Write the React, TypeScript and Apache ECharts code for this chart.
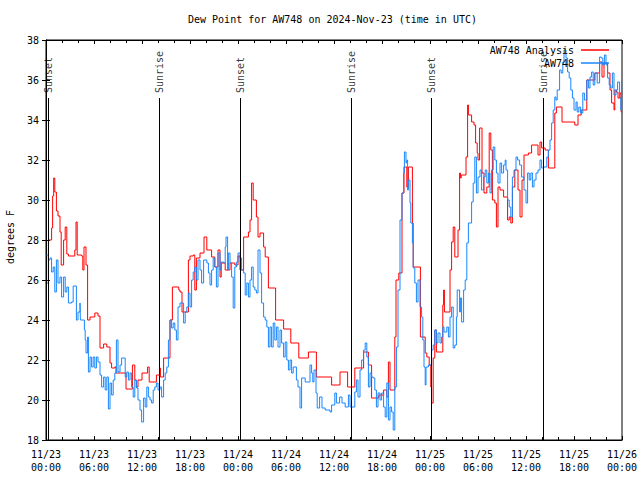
import React, { useEffect, useRef } from "react";
import * as echarts from "echarts";

const FONT = "'DejaVu Sans Mono', 'Liberation Mono', monospace";

const titleText = "Dew Point for AW748 on 2024-Nov-23 (time in UTC)";
const yAxisName = "degrees F";
const seriesNames = ["AW748 Analysis", "AW748"];
const seriesColors = ["#ff0000", "#1787ff"];

// hours since 2024-11-23 00:00 UTC
const xTickLabels = [
  "11/23\n00:00", "11/23\n06:00", "11/23\n12:00", "11/23\n18:00",
  "11/24\n00:00", "11/24\n06:00", "11/24\n12:00", "11/24\n18:00",
  "11/25\n00:00", "11/25\n06:00", "11/25\n12:00", "11/25\n18:00",
  "11/26\n00:00",
];

const sunEventHours = [0.33, 14.17, 24.3, 38.17, 48.17, 62.17];
const sunEventLabels = ["Sunset", "Sunrise", "Sunset", "Sunrise", "Sunset", "Sunrise"];

const analysis: [number, number][] = [
  [0.15, 25.85], [0.3, 28], [0.7, 28.6], [0.83, 30.2], [0.96, 31.1], [1.1, 30.4],
  [1.3, 29.45], [1.5, 29.2], [1.75, 28.4], [1.9, 26.75], [2.2, 28], [2.4, 28.65],
  [2.6, 27.3], [2.8, 27.2], [3.6, 27.5], [3.75, 28.9], [3.9, 27.25], [4.45, 27.2],
  [4.6, 26.5], [4.75, 27.65], [5.0, 26.75], [5.2, 24.0], [5.5, 24.15], [6.1, 24.35],
  [6.5, 24.2], [6.75, 22.6], [7.2, 22.8], [7.6, 22.65], [8.0, 21.85], [8.2, 21.6],
  [8.6, 21.65], [8.75, 21.35], [10.0, 20.55], [10.8, 21.75], [11.1, 21.0], [11.3, 20.65],
  [11.5, 21.0], [12.0, 21.35], [12.7, 21.65], [12.9, 20.9], [13.8, 21.25], [14.2, 21.6],
  [14.3, 21.15], [14.7, 22.1], [15.5, 24.0], [15.8, 25.65], [16.6, 25.5], [16.75, 25.4],
  [17.0, 24.4], [17.8, 27.0], [18.0, 27.2], [18.4, 27.25], [18.6, 25.5], [18.8, 27.1],
  [19.25, 27.35], [19.75, 28.15], [20.1, 27.5], [20.7, 27.15], [21.1, 26.65], [21.5, 27.5],
  [21.75, 26.15], [21.9, 26.85], [22.4, 26.5], [23.0, 26.85], [23.6, 26.75], [24.0, 27.2],
  [24.25, 26.5], [24.7, 28.15], [25.3, 28.4], [25.5, 29.0], [25.7, 30.85], [25.9, 30.0],
  [26.3, 29.15], [26.5, 28.15], [26.75, 28.35], [27.2, 27.65], [27.4, 27.15], [27.8, 25.6],
  [28.7, 24.0], [29.7, 23.55], [30.6, 22.85], [31.6, 22.1], [32.8, 22.4], [33.8, 21.15],
  [35.7, 20.75], [36.75, 21.4], [37.7, 20.65], [38.6, 21.6], [39.7, 22.4], [40.3, 21.75],
  [40.7, 20.1], [41.6, 20.25], [42.2, 20.5], [42.6, 20.15], [42.8, 21.9], [43.0, 20.5],
  [43.6, 23.15], [43.75, 26.0], [44.1, 26.35], [44.5, 30.35], [44.75, 31.65], [45.1, 30.65],
  [45.3, 31.65], [45.8, 28.85], [45.9, 26.65], [46.8, 23.15], [47.4, 22.35], [47.6, 22.15],
  [47.9, 21.75], [48.1, 20.65], [48.2, 19.85], [48.4, 22.1], [48.6, 23.5], [48.8, 22.4],
  [49.6, 24.75], [49.7, 25.5], [49.8, 24.4], [50.5, 26.5], [50.7, 27.9], [50.9, 28.65],
  [51.1, 27.15], [51.5, 28.5], [51.7, 31.35], [51.8, 31.1], [51.9, 31.25], [52.5, 32.15],
  [52.7, 34.75], [52.8, 34.25], [53.2, 33.9], [53.5, 33.75], [53.7, 32.85], [53.9, 32.35],
  [54.0, 32.0], [54.2, 33.6], [54.5, 31.35], [54.75, 30.35], [55.1, 30.65], [55.4, 33.35],
  [55.6, 32.5], [55.8, 30.0], [56.1, 29.85], [56.3, 28.65], [56.5, 30.65], [56.75, 30.5],
  [57.2, 30.15], [57.7, 29.0], [57.9, 29.15], [58.1, 28.85], [58.3, 30.65], [58.6, 31.5],
  [59.0, 30.5], [59.25, 29.15], [59.5, 31.0], [59.75, 32.25], [60.3, 32.35], [60.7, 32.75],
  [61.5, 32.25], [61.75, 32.9], [61.95, 32.6], [62.4, 32.5], [62.8, 31.6], [63.6, 34.35],
  [63.8, 34.65], [64.5, 33.9], [66.1, 33.75], [66.5, 34.25], [66.9, 34.5], [67.6, 36.0],
  [68.6, 36.35], [69.2, 36.9], [69.5, 36.15], [69.75, 36.85], [70.2, 36.35], [70.5, 35.5],
  [70.7, 34.85], [71.0, 34.5], [71.1, 35.5], [71.3, 35.4], [71.5, 35.1], [71.75, 35.35],
  [71.9, 34.4], [72.0, 34.4],
];

const observed: [number, number][] = [
  [0.05, 27.25], [0.3, 27.0], [0.5, 27.1], [0.7, 26.4], [0.9, 26.65], [1.1, 25.4],
  [1.3, 27.0], [1.5, 25.85], [1.75, 26.15], [1.95, 25.15], [2.2, 26.15], [2.4, 25.4],
  [2.6, 25.65], [2.8, 24.85], [3.2, 24.9], [3.4, 25.7], [3.8, 24.0], [4.0, 24.4],
  [4.25, 24.85], [4.3, 24.0], [4.8, 23.5], [4.9, 23.0], [5.0, 22.35], [5.2, 23.15],
  [5.3, 21.4], [5.5, 22.15], [5.7, 21.65], [5.9, 22.15], [6.1, 21.6], [6.3, 22.15],
  [6.5, 21.9], [6.75, 21.25], [6.95, 20.65], [7.2, 21.15], [7.4, 20.5], [7.6, 21.15],
  [7.8, 19.55], [8.0, 20.85], [8.2, 20.25], [8.4, 21.0], [8.6, 21.35], [8.8, 23.0],
  [9.0, 21.4], [9.25, 21.75], [9.45, 22.1], [9.9, 21.15], [10.1, 21.4], [10.3, 21.0],
  [10.5, 21.35], [10.7, 20.65], [10.9, 20.15], [11.1, 21.0], [11.3, 20.6], [11.5, 20.0],
  [11.75, 19.5], [11.95, 18.9], [12.2, 20.1], [12.4, 19.65], [12.6, 20.65], [12.8, 20.15],
  [13.0, 20.0], [13.2, 19.85], [13.4, 20.5], [13.6, 20.65], [13.8, 20.85], [14.0, 20.5],
  [14.25, 20.65], [14.45, 20.15], [14.7, 21.0], [14.9, 21.35], [15.1, 21.65], [15.3, 23.0],
  [15.5, 24.0], [15.7, 23.6], [15.9, 23.85], [16.1, 23.5], [16.3, 23.0], [16.5, 24.65],
  [16.75, 24.85], [17.2, 23.85], [17.4, 24.4], [17.6, 24.65], [17.8, 25.35], [18.0, 24.65],
  [18.2, 26.0], [18.4, 26.4], [18.6, 26.65], [18.8, 26.0], [19.0, 27.0], [19.25, 26.5],
  [19.45, 25.85], [19.7, 27.0], [20.1, 26.85], [20.3, 26.35], [20.5, 25.75], [20.7, 26.5],
  [20.9, 27.1], [21.1, 26.65], [21.3, 25.65], [21.5, 27.35], [21.75, 26.5], [21.9, 26.9],
  [22.2, 26.85], [22.4, 27.65], [22.5, 28.15], [22.7, 26.5], [22.8, 27.35], [23.0, 26.85],
  [23.2, 26.15], [23.4, 24.6], [23.6, 26.65], [23.8, 26.9], [24.0, 27.35], [24.25, 27.1],
  [24.45, 26.5], [24.7, 26.35], [24.9, 25.25], [25.1, 25.85], [25.3, 25.15], [25.5, 26.0],
  [25.7, 26.65], [25.9, 25.65], [26.1, 25.5], [26.3, 25.35], [26.5, 27.5], [26.75, 26.35],
  [26.95, 24.85], [27.2, 24.15], [27.4, 24.0], [27.6, 23.65], [27.8, 22.65], [28.0, 23.65],
  [28.2, 22.65], [28.4, 23.85], [28.6, 23.0], [28.8, 23.65], [29.0, 22.65], [29.25, 23.5],
  [29.45, 22.85], [29.7, 22.15], [29.9, 22.9], [30.1, 22.0], [30.3, 21.5], [30.5, 22.0],
  [30.7, 21.35], [30.9, 21.65], [31.3, 21.0], [31.5, 20.65], [31.75, 19.6], [31.95, 21.1],
  [32.4, 20.9], [33.0, 21.75], [33.2, 21.35], [33.35, 20.9], [33.5, 21.5], [33.75, 20.35],
  [33.9, 19.6], [34.2, 20.15], [34.5, 19.6], [34.9, 19.5], [35.5, 19.4], [35.7, 19.75],
  [36.1, 20.35], [36.3, 19.85], [36.7, 20.15], [37.0, 19.85], [37.4, 19.65], [37.8, 20.25],
  [38.0, 19.65], [38.6, 20.4], [38.8, 21.0], [39.0, 20.15], [39.25, 21.5], [39.45, 22.0],
  [39.7, 22.5], [39.9, 22.85], [40.1, 22.15], [40.3, 20.65], [40.5, 21.35], [40.7, 21.15],
  [40.9, 21.1], [41.1, 20.5], [41.3, 19.65], [41.5, 20.35], [41.75, 20.0], [41.95, 20.35],
  [42.2, 19.65], [42.4, 19.15], [42.6, 20.85], [42.8, 19.0], [43.0, 19.65], [43.2, 19.4],
  [43.4, 18.5], [43.6, 20.65], [43.8, 22.65], [44.0, 25.5], [44.25, 29.0], [44.5, 30.35],
  [44.7, 31.35], [44.8, 32.4], [45.0, 31.85], [45.1, 32.0], [45.2, 30.5], [45.3, 31.0],
  [45.5, 29.85], [45.6, 28.85], [45.8, 27.85], [45.9, 26.6], [46.1, 25.85], [46.3, 24.9],
  [46.5, 26.0], [46.75, 24.65], [46.95, 24.15], [47.1, 23.0], [47.25, 21.65], [47.4, 20.75],
  [47.5, 21.65], [47.8, 21.75], [48.2, 22.5], [48.4, 22.75], [48.6, 23.5], [48.8, 22.85],
  [49.0, 23.35], [49.25, 22.85], [49.45, 23.15], [49.6, 23.65], [49.75, 23.4], [50.1, 23.65],
  [50.3, 23.15], [50.5, 24.15], [50.7, 24.65], [50.9, 22.6], [51.1, 22.75], [51.3, 24.15],
  [51.4, 25.5], [51.7, 24.4], [51.8, 25.1], [51.95, 23.9], [52.2, 25.5], [52.4, 26.0],
  [52.6, 27.85], [52.8, 28.85], [53.2, 29.9], [53.4, 30.85], [53.6, 32.15], [53.8, 30.35],
  [54.0, 31.15], [54.25, 31.5], [54.45, 30.5], [54.7, 31.15], [54.9, 31.5], [55.1, 30.85],
  [55.3, 31.35], [55.5, 30.35], [55.7, 31.5], [55.9, 32.65], [56.1, 32.0], [56.3, 31.35],
  [56.5, 30.85], [56.75, 31.85], [56.95, 31.35], [57.2, 31.75], [57.4, 32.0], [57.5, 31.5],
  [57.7, 30.0], [57.9, 29.65], [58.1, 29.15], [58.3, 31.15], [58.5, 31.5], [58.75, 32.15],
  [58.95, 32.0], [59.2, 31.75], [59.45, 31.15], [59.75, 30.5], [60.0, 29.85], [60.2, 31.35],
  [60.4, 31.0], [60.6, 31.35], [60.8, 30.65], [61.0, 31.0], [61.25, 31.35], [61.5, 31.5],
  [61.75, 32.0], [61.95, 31.6], [62.2, 31.65], [62.6, 32.15], [62.8, 32.5], [63.0, 33.0],
  [63.2, 33.85], [63.4, 34.5], [63.6, 35.15], [63.75, 35.0], [63.9, 35.5], [64.2, 36.5],
  [64.4, 36.35], [64.6, 36.9], [64.75, 37.5], [65.0, 37.1], [65.2, 36.4], [65.4, 36.1],
  [65.6, 35.5], [65.8, 35.1], [66.0, 34.5], [66.25, 34.9], [66.4, 34.4], [66.6, 34.65],
  [66.8, 34.35], [67.1, 35.35], [67.3, 35.0], [67.6, 36.0], [67.8, 35.6], [68.0, 36.15],
  [68.2, 36.4], [68.4, 35.75], [68.6, 36.35], [68.9, 35.85], [69.2, 37.15], [69.4, 37.1],
  [69.6, 36.75], [69.8, 37.25], [70.0, 36.75], [70.2, 36.1], [70.4, 35.75], [70.6, 35.6],
  [70.8, 36.35], [71.0, 35.25], [71.25, 35.5], [71.45, 35.9], [71.7, 35.1], [71.85, 34.5],
  [71.95, 36.0], [72.0, 36.0],
];

const SUN_LINE_TOP = 35.1;
const SUN_LABEL_Y = 35.35;

export default function App() {
  const ref = useRef<HTMLDivElement>(null);
  useEffect(() => {
    if (!ref.current) return;
    const chart = echarts.init(ref.current, null, { renderer: "svg" });
    const axisCommon = {
      axisLine: { show: true, lineStyle: { color: "#000", width: 1 } },
      splitLine: { show: false },
    };
    const option: any = {
      animation: false,
      backgroundColor: "#fff",
      title: {
        text: titleText,
        left: 183,
        top: 9,
        textStyle: { fontFamily: FONT, fontSize: 10, fontWeight: "normal", color: "#000" },
      },
      legend: {
        orient: "vertical",
        right: 26,
        top: 40,
        align: "right",
        icon: "rect",
        itemWidth: 28,
        itemHeight: 1.5,
        itemGap: 3,
        textStyle: { fontFamily: FONT, fontSize: 10, color: "#000", lineHeight: 10, padding: [0, 2, 0, 0] },
        data: seriesNames,
      },
      grid: {
        left: 46, right: 18, top: 40, bottom: 40,
        containLabel: false, outerBoundsMode: "none",
        show: true, borderColor: "#000", borderWidth: 1, backgroundColor: "transparent",
      },
      xAxis: [
        {
          type: "value", min: 0, max: 72, interval: 6, position: "bottom",
          ...axisCommon,
          axisTick: { show: true, inside: true, length: 4, lineStyle: { color: "#000" } },
          minorTick: { show: true, splitNumber: 3, length: 3, lineStyle: { color: "#000" } },
          axisLabel: {
            fontFamily: FONT, fontSize: 10, color: "#000", margin: 8, lineHeight: 13,
            formatter: (v: number) => xTickLabels[Math.round(v / 6)] ?? "",
          },
        },
        {
          type: "value", min: 0, max: 72, interval: 6, position: "top",
          ...axisCommon,
          axisTick: { show: true, inside: true, length: 4, lineStyle: { color: "#000" } },
          minorTick: { show: true, splitNumber: 3, length: 3, lineStyle: { color: "#000" } },
          axisLabel: { show: false },
        },
      ],
      yAxis: [
        {
          type: "value", min: 18, max: 38, interval: 2, position: "left",
          ...axisCommon,
          name: yAxisName, nameLocation: "middle", nameGap: 31, nameRotate: 90,
          nameTextStyle: { fontFamily: FONT, fontSize: 10, color: "#000", padding: [0, 0, 0, 6] },
          axisTick: { show: true, inside: true, length: 4, lineStyle: { color: "#000" } },
          axisLabel: { fontFamily: FONT, fontSize: 10, color: "#000", margin: 7 },
        },
        {
          type: "value", min: 18, max: 38, interval: 2, position: "right",
          ...axisCommon,
          axisTick: { show: true, inside: true, length: 4, lineStyle: { color: "#000" } },
          axisLabel: { show: false },
        },
      ],
      series: [
        {
          name: seriesNames[0], type: "line", step: "end", data: analysis,
          symbol: "none", showSymbol: false,
          lineStyle: { color: seriesColors[0], width: 1 },
          itemStyle: { color: seriesColors[0] },
          z: 2,
        },
        {
          name: seriesNames[1], type: "line", step: "end", data: observed,
          symbol: "none", showSymbol: false,
          lineStyle: { color: seriesColors[1], width: 1 },
          itemStyle: { color: seriesColors[1] },
          z: 3,
        },
        {
          name: "sun", type: "scatter", symbolSize: 0, silent: true, z: 4,
          data: sunEventHours.map((h) => [h, SUN_LABEL_Y]),
          label: {
            show: true, position: [0, 0], rotate: 90, align: "left", verticalAlign: "middle",
            fontFamily: FONT, fontSize: 10, color: "#000",
            formatter: (p: any) => sunEventLabels[p.dataIndex],
          },
          markLine: {
            silent: true, symbol: ["none", "none"], animation: false,
            label: { show: false },
            lineStyle: { color: "#000", width: 1, type: "solid" },
            data: sunEventHours.map((h) => [{ coord: [h, SUN_LINE_TOP] }, { coord: [h, 18] }]),
          },
        },
      ],
    };
    chart.setOption(option);
    return () => chart.dispose();
  }, []);
  return <div ref={ref} style={{ width: 640, height: 480, position: "absolute", left: 0, top: 0 }} />;
}
